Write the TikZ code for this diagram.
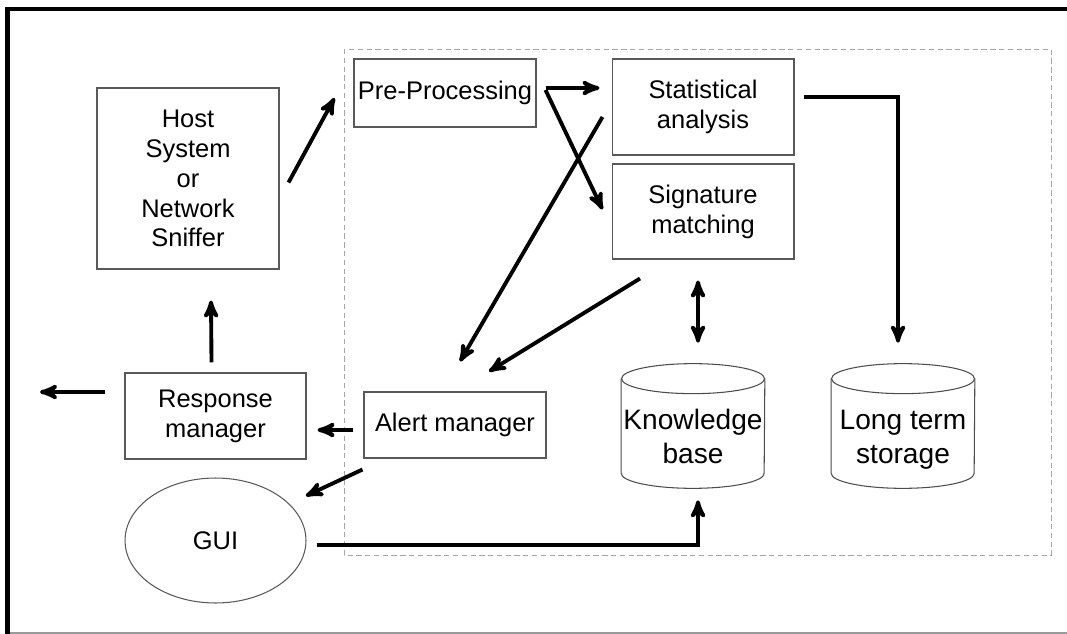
\documentclass[tikz,border=0pt]{standalone}
\usepackage{tikz}
\usepackage{xcolor}
\usepackage{fontspec}
\setmainfont{Liberation Sans}
\usetikzlibrary{arrows,shapes.geometric}

% cylinder outline round a named node
\newcommand{\dbdrum}[1]{%
  \draw[draw=black!70, line width=0.6pt]
    ([yshift=-0.3cm]#1.north west) -- ([yshift=0.3cm]#1.south west)
    arc[start angle=180, end angle=360, x radius=1.43cm, y radius=0.3cm]
    -- ([yshift=-0.3cm]#1.north east);
  \draw[draw=black!70, line width=0.6pt]
    ([yshift=-0.3cm]#1.north) ellipse [x radius=1.43cm, y radius=0.3cm];}

\begin{document}
\begin{tikzpicture}[x=0.02cm, y=-0.02cm, >=stealth',
    box node/.style={rectangle, draw=black!65, line width=0.6pt, align=center,
      inner sep=0pt, font=\fontsize{14.5}{17}\selectfont},
    db node/.style={rectangle, inner sep=0pt,
      minimum width=2.86cm, minimum height=2.48cm,
      font=\fontsize{16}{19}\selectfont},
    link/.style={->, line width=2.2pt}]

  \useasboundingbox (0,0) rectangle (1067,634);

  % frame
  \draw[black!40, line width=0.6pt] (7,633) -- (1067,633);
  \draw[line width=2.8pt] (7.5,634) |- (1067,9);
  \draw[black!35, densely dashed, line width=0.5pt] (344,49) rectangle (1051,555);

  \node[box node, minimum width=3.64cm, minimum height=3.62cm] (host) at (188,178.5)
    {Host\\System\\or\\Network\\Sniffer};
  \node[box node, minimum width=3.64cm, minimum height=1.36cm] (pre) at (445,93) {Pre-Processing};
  \node[box node, minimum width=3.64cm, minimum height=1.92cm] (stat) at (703,107) {Statistical\\analysis};
  \node[box node, minimum width=3.64cm, minimum height=1.9cm] (sig) at (703,211.5) {Signature\\matching};
  \node[box node, minimum width=3.64cm, minimum height=1.32cm] (alert) at (455,425) {Alert manager};
  \node[box node, minimum width=3.62cm, minimum height=1.72cm] (resp) at (215.5,416) {Response\\manager};
  \node[box node, ellipse, minimum width=3.62cm, minimum height=2.5cm] (gui) at (215.5,540.5) {GUI};
  \node[db node] (kb) at (693,426)
    {\raisebox{-0.28cm}[\height][\depth]{\begin{tabular}{@{}c@{}}Knowledge\\base\end{tabular}}};
  \node[db node] (lts) at (903,426)
    {\raisebox{-0.28cm}[\height][\depth]{\begin{tabular}{@{}c@{}}Long term\\storage\end{tabular}}};
  \dbdrum{kb}
  \dbdrum{lts}
  \coordinate (out) at (40,392);

  \path[link]
    ([shift={(9,4)}]host.east) edge ([shift={(-19,5)}]pre.west)
    ([shift={(9,-5)}]pre.east) edge ([shift={(-12,-19)}]stat.west)
    ([shift={(9,-3)}]pre.east) edge ([shift={(-9,-2)}]sig.west)
    ([shift={(-9,10)}]stat.west) edge ([shift={(5,-30)}]alert.north)
    ([shift={(-63,19)}]sig.south) edge ([shift={(34,-20)}]alert.north)
    ([shift={(-10,5)}]alert.west) edge ([shift={(11,14)}]resp.east)
    ([shift={(-4,-10)}]resp.north) edge ([shift={(23,31)}]host.south)
    ([shift={(-19,-24)}]resp.west) edge (out)
    ([shift={(-1,11)}]alert.south west) edge ([shift={(26,0)}]gui.north east);
  \draw[link, <->] ([shift={(-5,21)}]sig.south) -- ([shift={(5,-21)}]kb.north);
  \draw[link] ([shift={(9,-10)}]stat.east) -| ([shift={(-5,-21)}]lts.north);
  \draw[link] ([shift={(10,4.5)}]gui.east) -| ([shift={(5,12)}]kb.south);
\end{tikzpicture}
\end{document}
